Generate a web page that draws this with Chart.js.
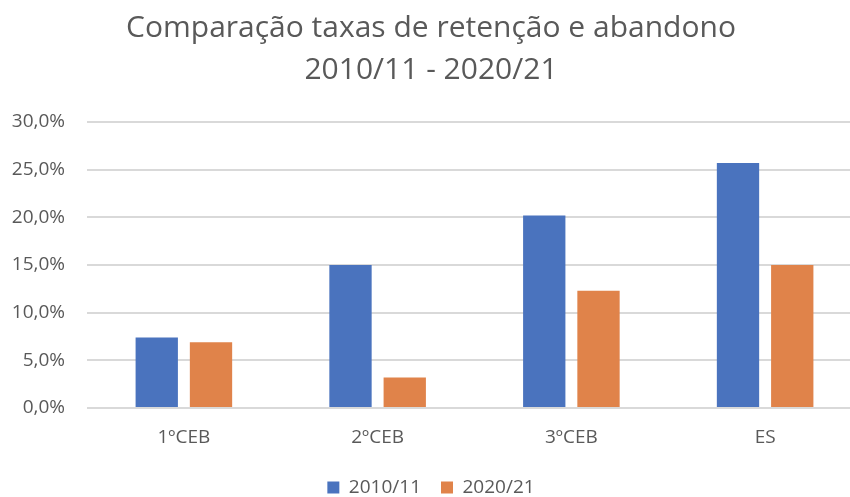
<!DOCTYPE html>
<html>
<head>
<meta charset="utf-8">
<script src="https://cdn.jsdelivr.net/npm/chart.js@4.4.0/dist/chart.umd.min.js"></script>
<style>
  html, body { margin: 0; padding: 0; overflow: hidden; background: #fff; }
  #wrap { width: 885px; height: 497px; }
</style>
</head>
<body>
<div id="wrap"><canvas id="retencaoChart" width="885" height="497"></canvas></div>
<script>
const categories = ['1ºCEB', '2ºCEB', '3ºCEB', 'ES'];
const seriesNames = ['2010/11', '2020/21'];
const values2010 = [7.4, 15.0, 20.2, 25.7];
const values2020 = [6.9, 3.2, 12.3, 15.0];
const yTickMax = 30;
const yTickStep = 5;
const titleLines = ['Comparação taxas de retenção e abandono', '2010/11 - 2020/21'];

const textColor = '#595959';
const fontFamily = '"Open Sans", "Liberation Sans", sans-serif';

const ctx = document.getElementById('retencaoChart');
const chart = new Chart(ctx, {
  type: 'bar',
  data: {
    labels: categories,
    datasets: [
      {
        label: seriesNames[0],
        data: values2010,
        backgroundColor: '#4A73BE',
        categoryPercentage: 0.56,
        barPercentage: 0.78
      },
      {
        label: seriesNames[1],
        data: values2020,
        backgroundColor: '#E0834A',
        categoryPercentage: 0.56,
        barPercentage: 0.78
      }
    ]
  },
  options: {
    responsive: false,
    animation: false,
    devicePixelRatio: 1,
    layout: {
      // legend sits low in the original, let its box run a bit past the bottom edge
      padding: { left: 0, right: 23, top: 0, bottom: -10 }
    },
    plugins: {
      title: {
        display: true,
        text: titleLines,
        color: textColor,
        font: { family: fontFamily, size: 30, weight: 'normal', lineHeight: 1.4 },
        padding: { top: 7, bottom: 31 }
      },
      legend: {
        position: 'bottom',
        labels: {
          color: textColor,
          font: { family: fontFamily, size: 19 },
          boxWidth: 12,
          boxHeight: 12,
          padding: 20
        }
      },
      tooltip: { enabled: false }
    },
    scales: {
      x: {
        grid: { display: false, drawTicks: false },
        border: { display: false },
        ticks: {
          color: textColor,
          font: { family: fontFamily, size: 19 },
          padding: 18
        },
        afterFit: (scale) => { scale.height = 50; }
      },
      y: {
        min: 0,
        max: yTickMax,
        ticks: {
          stepSize: yTickStep,
          color: textColor,
          font: { family: fontFamily, size: 19 },
          padding: 22,
          callback: (v) => v.toFixed(1).replace('.', ',') + '%'
        },
        grid: { color: '#d9d9d9', lineWidth: 2, drawTicks: false },
        border: { display: false },
        afterFit: (scale) => { scale.width = 87; }
      }
    }
  }
});
</script>
</body>
</html>
